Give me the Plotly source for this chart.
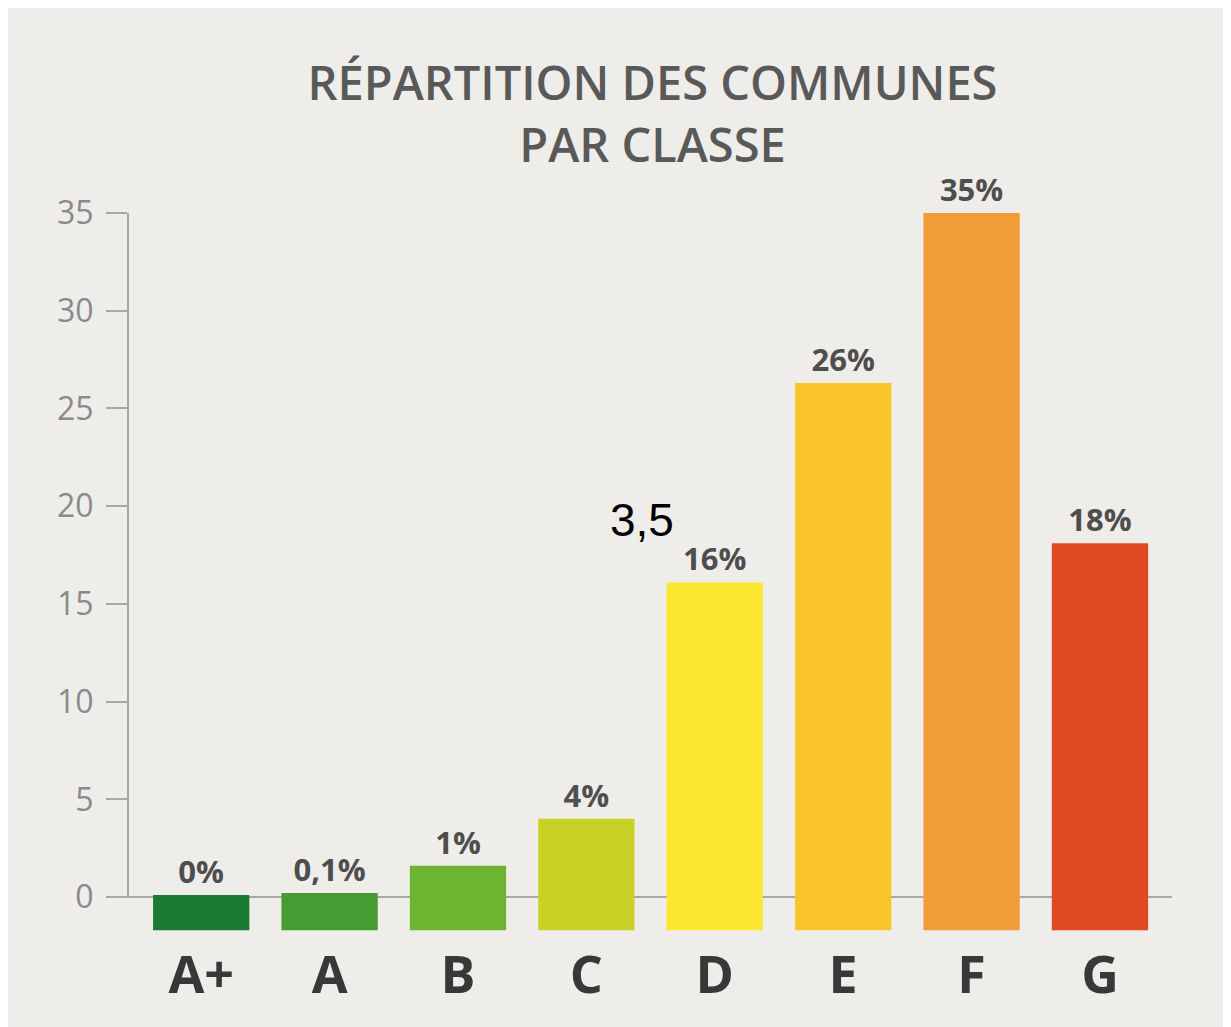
import plotly.graph_objects as go

# ---- data ----
classes = ["A+", "A", "B", "C", "D", "E", "F", "G"]
bar_tops = [0.1, 0.2, 1.6, 4.0, 16.1, 26.3, 35.0, 18.1]
pct_labels = ["0%", "0,1%", "1%", "4%", "16%", "26%", "35%", "18%"]
bar_colors = ["#1b7b34", "#479b33", "#6db431", "#c9d126", "#fde72e", "#f9c52b", "#f29c37", "#e04a22"]
y_ticks = [0, 5, 10, 15, 20, 25, 30, 35]
note_text = "3,5"

BAR_FLOOR = -1.7
BG = "#efedea"

fig = go.Figure()
fig.add_trace(go.Bar(
    x=classes,
    y=[t - BAR_FLOOR for t in bar_tops],
    base=BAR_FLOOR,
    marker=dict(color=bar_colors, line=dict(width=0)),
    width=0.75,
    text=pct_labels,
    textposition="outside",
    textfont=dict(family="Open Sans", size=31, color="#4e4e4e", weight=700),
    cliponaxis=False,
    showlegend=False,
))

fig.update_layout(
    width=1231, height=1027,
    paper_bgcolor=BG, plot_bgcolor=BG,
    margin=dict(l=120, r=62, t=166, b=95),
    title=dict(
        text="RÉPARTITION DES COMMUNES<br>PAR CLASSE",
        font=dict(family="Open Sans", size=47, color="#595959", weight=600),
        x=0.5, xref="paper", xanchor="center",
        y=0.91, yref="container", yanchor="top",
    ),
    xaxis=dict(
        range=[-0.57, 7.6],
        showgrid=False, zeroline=False, showline=False,
        tickfont=dict(family="Open Sans", size=52, color="#383838", weight=700),
        ticks="",
    ),
    yaxis=dict(
        range=[-2.2, 37],
        tickvals=y_ticks,
        showgrid=False, zeroline=False, showline=False,
        ticks="outside", ticklen=21, tickwidth=2, tickcolor="#a8a8a8",
        tickfont=dict(family="Open Sans", size=32, color="#8a8a8a"),
        ticklabelstandoff=6,
    ),
    bargap=0.25,
)

# y axis line from 0 to 35
fig.add_shape(type="line", xref="paper", yref="y", x0=0, x1=0, y0=0, y1=35,
              line=dict(color="#a8a8a8", width=2), layer="below")
# baseline at zero
fig.add_shape(type="line", xref="paper", yref="y", x0=-0.02, x1=0.995, y0=0, y1=0,
              line=dict(color="#a8a8a8", width=2), layer="below")

fig.add_annotation(text=note_text, x=3.43, y=19.3, xref="x", yref="y",
                   showarrow=False, font=dict(family="Liberation Sans", size=46, color="#000000"))

fig.write_html("out.html")
